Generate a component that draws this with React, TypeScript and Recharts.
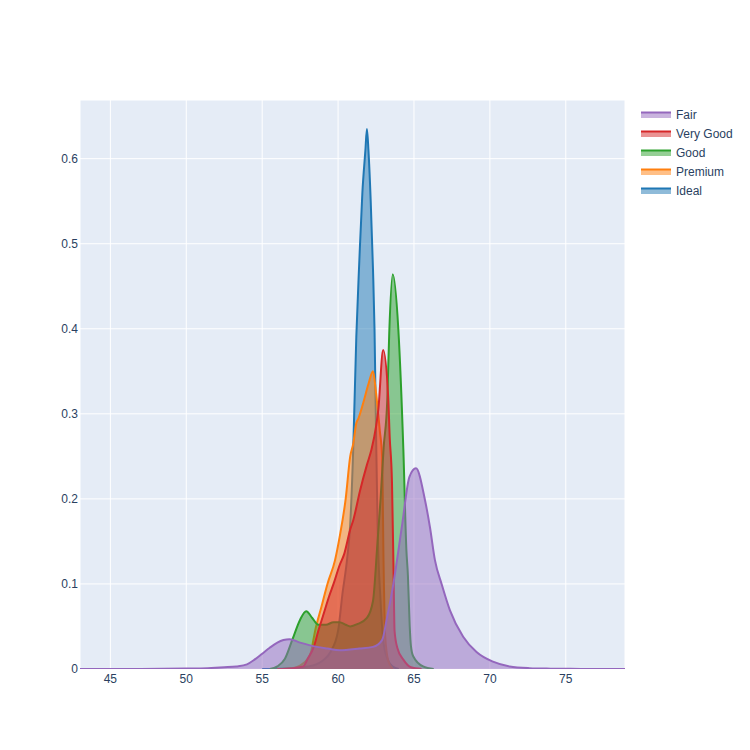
import { AreaChart, Area, XAxis, YAxis, CartesianGrid } from 'recharts'

// depth density per cut
const idealX = [55, 57, 58, 58.5, 59, 59.5, 60, 60.3, 60.6, 60.8, 61.0, 61.2, 61.4, 61.6, 61.8, 61.9, 62.0, 62.15, 62.3, 62.4, 62.5, 62.6, 62.8, 63.0, 63.3, 63.6, 64]
const idealY = [0, 0.001, 0.003, 0.005, 0.01, 0.02, 0.045, 0.09, 0.13, 0.17, 0.26, 0.39, 0.48, 0.56, 0.61, 0.635, 0.61, 0.55, 0.47, 0.4, 0.28, 0.17, 0.08, 0.03, 0.01, 0.003, 0]

const premiumX = [56, 57, 57.5, 58, 58.2, 58.5, 58.9, 59.3, 59.8, 60.1, 60.5, 60.8, 61.0, 61.2, 61.35, 61.66, 62.0, 62.3, 62.5, 62.75, 62.9, 63.0, 63.1, 63.3, 63.6]
const premiumY = [0, 0.001, 0.004, 0.012, 0.019, 0.046, 0.073, 0.1, 0.128, 0.155, 0.2, 0.25, 0.265, 0.289, 0.295, 0.313, 0.335, 0.35, 0.325, 0.28, 0.25, 0.12, 0.04, 0.01, 0]

const goodX = [55.5, 56, 56.5, 57, 57.5, 57.9, 58.3, 58.7, 59.2, 59.7, 60.1, 60.5, 60.8, 61.3, 61.9, 62.3, 62.6, 62.8, 63.0, 63.24, 63.37, 63.6, 63.97, 64.3, 64.5, 64.6, 64.72, 64.8, 64.95, 65.6, 66.3]
const goodY = [0, 0.003, 0.012, 0.035, 0.058, 0.068, 0.06, 0.052, 0.052, 0.055, 0.055, 0.052, 0.05, 0.053, 0.06, 0.08, 0.15, 0.2, 0.26, 0.316, 0.395, 0.464, 0.399, 0.258, 0.14, 0.11, 0.05, 0.027, 0.015, 0.003, 0]

const veryGoodX = [56, 57, 57.7, 58.0, 58.4, 58.7, 59.0, 59.4, 59.7, 60.1, 60.4, 60.8, 61.0, 61.45, 61.9, 62.2, 62.5, 62.65, 62.97, 63.3, 63.4, 63.55, 63.65, 63.72, 63.9, 64.3, 64.8, 65.5]
const veryGoodY = [0, 0.001, 0.003, 0.012, 0.026, 0.045, 0.062, 0.085, 0.1, 0.122, 0.135, 0.164, 0.175, 0.21, 0.24, 0.258, 0.285, 0.305, 0.375, 0.32, 0.273, 0.22, 0.12, 0.045, 0.025, 0.011, 0.002, 0]

const fairX = [43, 47, 50, 51.4, 52.5, 53.3, 54.0, 54.5, 55.0, 55.5, 56.0, 56.4, 56.8, 57.5, 58.6, 59.3, 60.1, 61.4, 62.3, 62.9, 63.2, 63.65, 64.2, 64.7, 65.13, 65.72, 66.05, 66.38, 66.82, 67.37, 68.24, 69.12, 70.2, 71.3, 72.6, 74, 76, 79]
const fairY = [0, 0, 0.0005, 0.001, 0.002, 0.003, 0.0055, 0.011, 0.018, 0.025, 0.031, 0.034, 0.035, 0.031, 0.026, 0.024, 0.022, 0.024, 0.026, 0.034, 0.058, 0.101, 0.167, 0.226, 0.236, 0.199, 0.167, 0.128, 0.1, 0.069, 0.038, 0.02, 0.0086, 0.003, 0.001, 0.0004, 0.0001, 0]

const xTicks = [45, 50, 55, 60, 65, 70, 75]
const yTicks = [0, 0.1, 0.2, 0.3, 0.4, 0.5, 0.6]

// drawing order (first = bottom), legend shows it reversed
const series = [
  { name: 'Ideal', color: '#1f77b4', xs: idealX, ys: idealY },
  { name: 'Premium', color: '#ff7f0e', xs: premiumX, ys: premiumY },
  { name: 'Good', color: '#2ca02c', xs: goodX, ys: goodY },
  { name: 'Very Good', color: '#d62728', xs: veryGoodX, ys: veryGoodY },
  { name: 'Fair', color: '#9467bd', xs: fairX, ys: fairY },
]

const font = '"Liberation Sans", Arial, sans-serif'
const textColor = '#2a3f5f'

function toPoints(xs: number[], ys: number[]) {
  return xs.map((x, i) => ({ x, y: ys[i] }))
}

function PlotLegend() {
  const items = [...series].reverse()
  return (
    <div style={{ position: 'absolute', left: 641, top: 105, fontFamily: font, fontSize: 12, color: textColor }}>
      {items.map((s) => (
        <div key={s.name} style={{ display: 'flex', alignItems: 'center', height: 19 }}>
          <svg width={30} height={10} style={{ marginRight: 5 }}>
            <rect x={0} y={2} width={30} height={6} fill={s.color} fillOpacity={0.5} />
            <line x1={0} x2={30} y1={2.5} y2={2.5} stroke={s.color} strokeWidth={2} />
          </svg>
          <span>{s.name}</span>
        </div>
      ))}
    </div>
  )
}

export default function App() {
  return (
    <div style={{ position: 'absolute', left: 0, top: 0, width: 750, height: 750, background: '#fff' }}>
      <AreaChart width={750} height={750} margin={{ top: 100, right: 125, bottom: 51, left: 40 }}>
        <CartesianGrid stroke="#fff" strokeWidth={1} fill="#E5ECF6" />
        <XAxis
          dataKey="x"
          type="number"
          domain={[43, 78.9]}
          ticks={xTicks}
          allowDataOverflow
          height={30}
          tickLine={false}
          axisLine={false}
          tickSize={0}
          tickMargin={5}
          tick={{ fontSize: 12, fill: textColor, fontFamily: font }}
        />
        <YAxis
          type="number"
          domain={[0, 0.669]}
          ticks={yTicks}
          allowDataOverflow
          width={40}
          tickLine={false}
          axisLine={false}
          tickSize={0}
          tickMargin={2}
          tick={{ fontSize: 12, fill: textColor, fontFamily: font }}
        />
        {series.map((s) => (
          <Area
            key={s.name}
            data={toPoints(s.xs, s.ys)}
            dataKey="y"
            name={s.name}
            type="monotone"
            stroke={s.color}
            strokeWidth={2}
            fill={s.color}
            fillOpacity={0.5}
            dot={false}
            activeDot={false}
            isAnimationActive={false}
          />
        ))}
      </AreaChart>
      <PlotLegend />
    </div>
  )
}
